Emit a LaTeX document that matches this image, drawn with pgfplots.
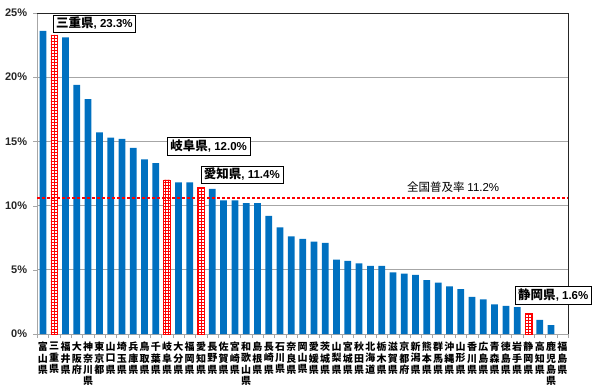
\documentclass[border=0pt]{standalone}
\usepackage{pgfplots}
\pgfplotsset{compat=1.18}
\usepackage{pgfplotstable}
\usetikzlibrary{patterns}
\usepackage{fontspec}
\setmainfont{Liberation Sans}
\newfontfamily\jp{Noto Sans CJK JP}
\definecolor{barblue}{HTML}{0070C0}
\definecolor{gridgray}{HTML}{A6A6A6}

\pgfplotstableread{
x y
1 23.6
3 23.1
4 19.4
5 18.3
6 15.7
7 15.3
8 15.2
9 14.5
10 13.6
11 13.3
13 11.8
14 11.8
16 11.3
17 10.4
18 10.4
19 10.2
20 10.2
21 9.2
22 8.3
23 7.6
24 7.4
25 7.2
26 7.1
27 5.8
28 5.7
29 5.5
30 5.3
31 5.3
32 4.8
33 4.7
34 4.6
35 4.2
36 4.0
37 3.7
38 3.5
39 2.9
40 2.7
41 2.3
42 2.2
43 2.1
45 1.1
46 0.7
}\bluedata

\pgfplotstableread{
x y
2 23.3
12 12.0
15 11.4
44 1.6
}\hatchdata

\pgfplotstableread{
x y
0.5 10.6
47.5 10.6
}\avgdata

\newcommand{\lab}[2]{{\jp\bfseries\fontsize{12.5}{15}\selectfont #1}{\bfseries\fontsize{11.5}{14}\selectfont, #2}}

\begin{document}
\begin{tikzpicture}
\begin{axis}[
  name=ax,
  scale only axis,
  width=530.7pt, height=321pt,
  xmin=0.5, xmax=47.5, ymin=0, ymax=25,
  axis line style={gridgray},
  ytick={0,5,10,15,20,25},
  yticklabel={\pgfmathprintnumber{\tick}\%},
  /pgf/number format/assume math mode=true,
  yticklabel style={font=\bfseries\fontsize{11}{14}\selectfont, text=black!85, inner sep=0pt, xshift=-6pt},
  ymajorgrids,
  major grid style={gridgray, line width=0.8pt},
  ytick pos=left,
  xtick pos=bottom,
  tick align=outside,
  ytick style={gridgray},
  major tick length=4pt,
  xtick={1,...,47},
  xtick style={draw=none},
  xticklabels={
    {富\\山\\県},{三\\重\\県},{福\\井\\県},{大\\阪\\府},{神\\奈\\川\\県},{東\\京\\都},{山\\口\\県},{埼\\玉\\県},{兵\\庫\\県},{鳥\\取\\県},
    {千\\葉\\県},{岐\\阜\\県},{大\\分\\県},{福\\岡\\県},{愛\\知\\県},{長\\野\\県},{佐\\賀\\県},{宮\\崎\\県},{和\\歌\\山\\県},{島\\根\\県},
    {長\\崎\\県},{石\\川\\県},{奈\\良\\県},{岡\\山\\県},{愛\\媛\\県},{茨\\城\\県},{山\\梨\\県},{宮\\城\\県},{秋\\田\\県},{北\\海\\道},
    {栃\\木\\県},{滋\\賀\\県},{京\\都\\府},{新\\潟\\県},{熊\\本\\県},{群\\馬\\県},{沖\\縄\\県},{山\\形\\県},{香\\川\\県},{広\\島\\県},
    {青\\森\\県},{徳\\島\\県},{岩\\手\\県},{静\\岡\\県},{高\\知\\県},{鹿\\児\\島\\県},{福\\島\\県}},
  xticklabel style={align=center, anchor=north, inner sep=0pt, yshift=-4pt,
    font=\jp\bfseries\fontsize{10}{11.3}\selectfont},
  extra x ticks={0.5,1.5,...,47.5},
  extra x tick labels={},
  extra x tick style={xtick style={draw=gridgray}, major tick length=4pt, grid=none},
  bar width=0.6,
  clip=false,
]
\addplot[ybar, bar shift=0pt, fill=barblue, draw=none] table[x=x,y=y] {\bluedata};
\addplot[ybar, bar shift=0pt, fill=white, draw=red, line width=0.6pt, postaction={pattern=grid, pattern color=red}] table[x=x,y=y] {\hatchdata};
\addplot[color=red, line width=1.2pt, dash pattern=on 3pt off 2pt, mark=none] table[x=x,y=y] {\avgdata};
\draw[black!85, line width=0.8pt] (rel axis cs:0,1) -- (rel axis cs:1,1) -- (rel axis cs:1,0);
\node[draw=black, fill=white, anchor=west, inner xsep=3pt, inner ysep=2.5pt] at (axis cs:1.89,24.18) {\lab{三重県}{23.3\%}};
\node[draw=black, fill=white, anchor=west, inner xsep=3pt, inner ysep=2.5pt] at (axis cs:12.01,14.62) {\lab{岐阜県}{12.0\%}};
\node[draw=black, fill=white, anchor=west, inner xsep=3pt, inner ysep=2.5pt] at (axis cs:14.97,12.42) {\lab{愛知県}{11.4\%}};
\node[draw=black, fill=white, anchor=west, inner xsep=3pt, inner ysep=2.5pt] at (axis cs:42.81,3.04) {\lab{静岡県}{1.6\%}};
\node[anchor=west, inner sep=0pt] at (axis cs:33.24,11.45) {{\jp\fontsize{11.5}{13}\selectfont 全国普及率}\ {\fontsize{11.5}{13}\selectfont 11.2\%}};
\end{axis}
\pgfresetboundingbox
\path[use as bounding box] ([xshift=-37.3pt,yshift=-52pt]ax.south west) rectangle ([xshift=32pt,yshift=13pt]ax.north east);
\end{tikzpicture}
\end{document}
